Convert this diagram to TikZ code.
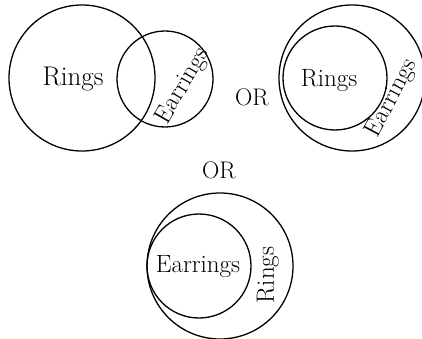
\documentclass[tikz,border=0pt]{standalone}
\begin{document}
\begin{tikzpicture}[x=1pt,y=-1pt,
  ring/.style={circle,draw,line width=1.3pt,inner sep=0pt},
  lbl/.style={inner sep=0pt,font=\fontsize{25}{25}\selectfont},
  orlbl/.style={inner sep=0pt,font=\fontsize{24}{24}\selectfont}]
\useasboundingbox (0,0) rectangle (422,339);
% diagram 1
\node[ring,minimum size=146pt] (r1) at (82,78) {};
\node[ring,minimum size=96pt] (e1) at (165,79) {};
\node[lbl,font=\fontsize{27}{27}\selectfont] (t1) at (73,79) {Rings};
\node[lbl,rotate=60] (u1) at (183,86) {Earrings};
\node[orlbl] (or1) at (252,97) {OR};
% diagram 2
\node[ring,minimum size=146pt] (e2) at (352,78) {};
\node[ring,minimum size=104pt] (r2) at (335,78) {};
\node[lbl] (t2) at (329,81) {Rings};
\node[lbl,rotate=62] (u2) at (392,98) {Earrings};
\node[orlbl] (or2) at (219,170) {OR};
% diagram 3
\node[ring,minimum size=146pt] (r3) at (220,266) {};
\node[ring,minimum size=104pt] (e3) at (199,266) {};
\node[lbl] (t3) at (198,267) {Earrings};
\node[lbl,rotate=90] (u3) at (268,275) {Rings};
\end{tikzpicture}
\end{document}
